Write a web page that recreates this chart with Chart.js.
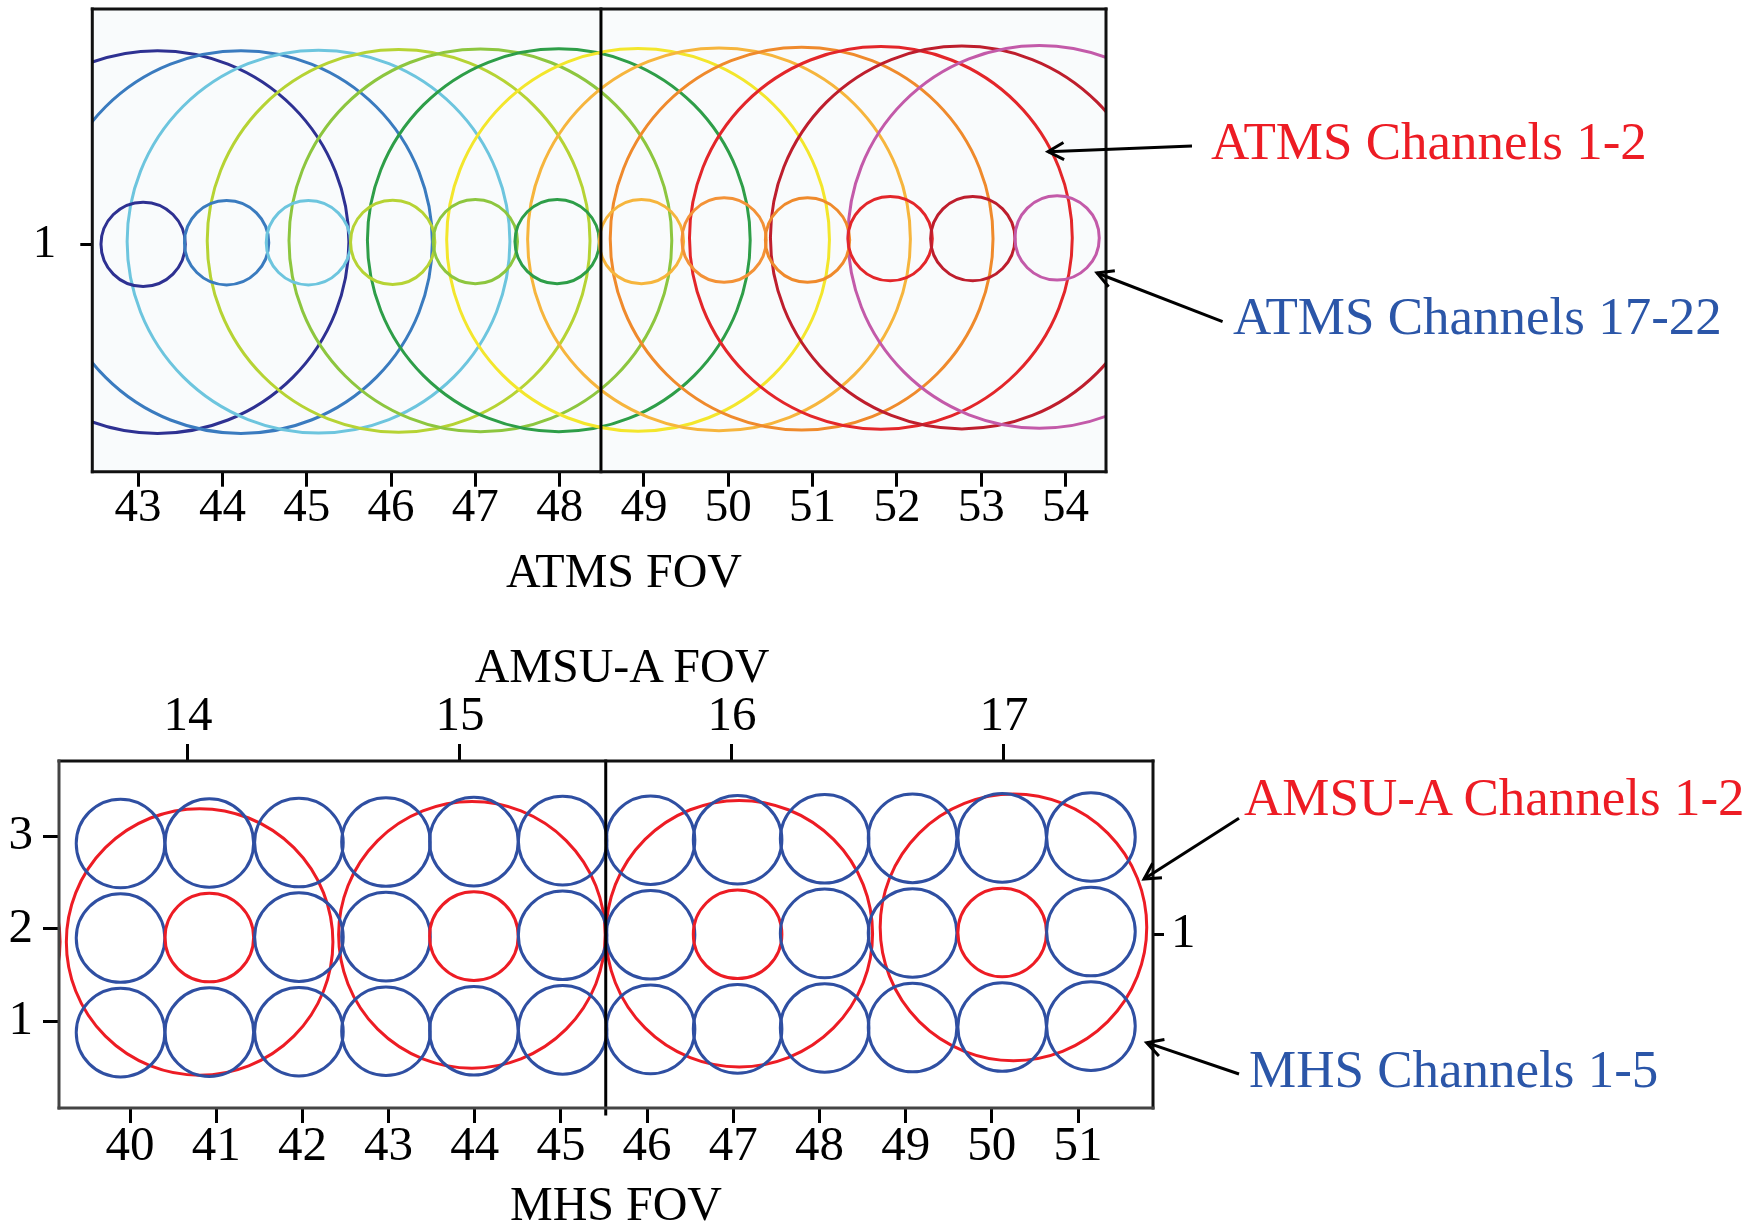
<!DOCTYPE html>
<html>
<head>
<meta charset="utf-8">
<script src="https://cdn.jsdelivr.net/npm/chart.js@4.4.1/dist/chart.umd.min.js"></script>
<style>
  html, body { margin: 0; padding: 0; background: #fff; }
  #page { position: relative; width: 1763px; height: 1222px; overflow: hidden; font-family: "Liberation Serif", "Times New Roman", serif; }
  canvas { position: absolute; left: 0; }
  .lbl { position: absolute; line-height: 1; white-space: nowrap; transform: translate(-50%, -50%); color: #000; font-size: 48px; }
  .note { position: absolute; line-height: 1; white-space: nowrap; transform: translateY(-50%); font-size: 53px; }
  .red { color: #ed1c24; }
  .blue { color: #2b56a8; }
  svg { position: absolute; left: 0; top: 0; }
</style>
</head>
<body>
<div id="page">
  <canvas id="atms" width="1763" height="620" style="top:0"></canvas>
  <canvas id="mhs" width="1763" height="622" style="top:600px"></canvas>

  <div class="lbl" style="left:624px; top:571px">ATMS FOV</div>
  <div class="lbl" style="left:622px; top:666px">AMSU-A FOV</div>
  <div class="lbl" style="left:616px; top:1204px">MHS FOV</div>

  <div class="note red" style="left:1211px; top:141px">ATMS Channels 1-2</div>
  <div class="note blue" style="left:1233px; top:316px">ATMS Channels 17-22</div>
  <div class="note red" style="left:1244px; top:797px">AMSU-A Channels 1-2</div>
  <div class="note blue" style="left:1249px; top:1069px">MHS Channels 1-5</div>

  <svg id="arrows" width="1763" height="1222"></svg>
</div>

<script>
// ---- ATMS panel (top) ----
const atmsTicks = [43, 44, 45, 46, 47, 48, 49, 50, 51, 52, 53, 54];
const atmsRowTicks = [1];

// channels 17-22 footprints (small circles)
const atmsSmallX = [43.06, 44.05, 45.02, 46.02, 47.00, 47.97, 48.97, 49.95, 50.94, 51.92, 52.90, 53.90];
const atmsSmallY = [1.000, 1.007, 1.007, 1.009, 1.012, 1.012, 1.012, 1.019, 1.019, 1.025, 1.025, 1.028];
const atmsSmallColors = ['#2e3192', '#3a7bbf', '#6dc5de', '#b6d334', '#8dc63f', '#2e9e48',
                         '#f6b53d', '#f39237', '#ef8a2c', '#e3262a', '#be1e2d', '#c35aa9'];

// channels 1-2 footprints (big circles)
const atmsBigX = [43.23, 44.22, 45.14, 46.09, 47.06, 47.99, 48.93, 49.89, 50.87, 51.81, 52.77, 53.69];
const atmsBigY = [1.010, 1.010, 1.012, 1.015, 1.017, 1.018, 1.020, 1.022, 1.025, 1.028, 1.030, 1.033];
const atmsBigColors = ['#2e3192', '#3a7bbf', '#6dc5de', '#b6d334', '#8dc63f', '#2e9e48',
                       '#f3e62c', '#f6b53d', '#ef8a2c', '#e3262a', '#be1e2d', '#c35aa9'];

const atmsSmallRadius = 0.5;   // FOV units
const atmsBigRadius = 2.27;
const atmsDivider = 48.49;

// ---- MHS / AMSU-A panel (bottom) ----
const mhsTicks = [40, 41, 42, 43, 44, 45, 46, 47, 48, 49, 50, 51];
const mhsRowTicks = [1, 2, 3];
const amsuTicks = [14, 15, 16, 17];
const scanTicks = [1];

const mhsX = [39.89, 40.92, 41.96, 42.97, 43.99, 45.02, 46.04, 47.05, 48.06, 49.08, 50.12, 51.15];
const mhsRowY = [0.88, 1.90, 2.92];
const mhsDrift = [0, 0.005, 0.01, 0.015, 0.02, 0.03, 0.035, 0.04, 0.05, 0.055, 0.06, 0.07];
const mhsRedCols = [41, 44, 47, 50];
const mhsRadius = 0.514;

const amsuX = [13.04, 14.043, 15.044, 16.027, 17.035];
const amsuY = [1.86, 1.858, 1.934, 1.947, 2.015];
const amsuRadius = 0.49;
const mhsDivider = 45.52;

const BLUE = '#2f4fa2';
const RED = '#ed1c24';

Chart.defaults.font.family = "'Liberation Serif', 'Times New Roman', serif";
Chart.defaults.color = '#000';

// radius given in axis units, turned into pixels by the scale
function unitRadius(axisId, units) {
  return (ctx) => {
    const chart = ctx.chart;
    const s = chart.scales[axisId];
    if (!chart.chartArea || !s) return 0;
    return Math.abs(s.getPixelForValue(s.min + units) - s.getPixelForValue(s.min));
  };
}

function fixedTicks(values) {
  return (scale) => { scale.ticks = values.map(v => ({ value: v })); };
}

function axis(opts) {
  return {
    type: 'linear',
    position: opts.position,
    min: opts.min,
    max: opts.max,
    afterBuildTicks: fixedTicks(opts.ticks),
    afterFit: (s) => {
      if (opts.width !== undefined) s.width = opts.width;
      if (opts.height !== undefined) s.height = opts.height;
      // label overhang should not push the plot area around
      s.paddingTop = s.paddingBottom = s.paddingLeft = s.paddingRight = 0;
    },
    border: { display: false },
    grid: {
      drawOnChartArea: false,
      drawTicks: true,
      tickLength: opts.tickLength,
      tickWidth: 3,
      tickColor: '#000'
    },
    ticks: {
      autoSkip: false,
      maxRotation: 0,
      padding: opts.padding,
      font: { size: opts.fontSize, lineHeight: 1 },
      color: '#000',
      callback: (v) => String(v)
    }
  };
}

function circles(points, axisId, units, color, extra) {
  return Object.assign({
    data: points,
    showLine: false,
    pointRadius: unitRadius(axisId, units),
    pointHoverRadius: unitRadius(axisId, units),
    pointBorderColor: color,
    pointBackgroundColor: 'rgba(0,0,0,0)',
    pointBorderWidth: 3,
    clip: 0
  }, extra || {});
}

const framePlugin = {
  id: 'frame',
  beforeDatasetsDraw(chart, args, opts) {
    if (!opts.fill) return;
    const { ctx, chartArea: a } = chart;
    ctx.save();
    ctx.fillStyle = opts.fill;
    ctx.fillRect(a.left, a.top, a.right - a.left, a.bottom - a.top);
    ctx.restore();
  },
  afterDatasetsDraw(chart, args, opts) {
    const { ctx, chartArea: a, scales } = chart;
    ctx.save();
    ctx.lineWidth = 3;
    ctx.lineCap = 'square';
    const xd = scales.x.getPixelForValue(opts.divider);
    ctx.strokeStyle = '#000';
    ctx.beginPath();
    ctx.moveTo(xd, a.top);
    ctx.lineTo(xd, a.bottom + (opts.dividerExtra || 0));
    ctx.stroke();
    const c = opts.colors;
    const side = (color, x1, y1, x2, y2) => {
      ctx.strokeStyle = color;
      ctx.beginPath(); ctx.moveTo(x1, y1); ctx.lineTo(x2, y2); ctx.stroke();
    };
    side(c[0], a.left, a.top, a.right, a.top);
    side(c[1], a.right, a.top, a.right, a.bottom);
    side(c[2], a.left, a.bottom, a.right, a.bottom);
    side(c[3], a.left, a.top, a.left, a.bottom);
    ctx.restore();
  }
};

const common = {
  responsive: false,
  animation: false,
  events: [],
  plugins: { legend: { display: false }, tooltip: { enabled: false } }
};

// ---- top chart ----
new Chart(document.getElementById('atms'), {
  type: 'scatter',
  data: {
    datasets: [
      circles(atmsSmallX.map((x, i) => ({ x: x, y: atmsSmallY[i] })), 'x', atmsSmallRadius,
              (ctx) => atmsSmallColors[ctx.dataIndex]),
      circles(atmsBigX.map((x, i) => ({ x: x, y: atmsBigY[i] })), 'x', atmsBigRadius,
              (ctx) => atmsBigColors[ctx.dataIndex])
    ]
  },
  options: Object.assign({}, common, {
    layout: { autoPadding: false, padding: { left: 0, top: 9, right: 657, bottom: 0 } },
    scales: {
      x: axis({ position: 'bottom', min: 42.457, max: 54.48, ticks: atmsTicks, height: 148.3,
                tickLength: 15, padding: -2, fontSize: 47 }),
      y: axis({ position: 'left', min: 0, max: 2.035, ticks: atmsRowTicks, width: 92.3,
                tickLength: 12, padding: 24, fontSize: 47 })
    },
    plugins: Object.assign({}, common.plugins, {
      frame: { divider: atmsDivider, colors: ['#111', '#111', '#111', '#111'], fill: '#f9fbfc' }
    })
  }),
  plugins: [framePlugin]
});

// ---- bottom chart ----
const mhsPoints = [];
const mhsColors = [];
mhsRowY.forEach((ry, r) => {
  mhsX.forEach((x, i) => {
    mhsPoints.push({ x: x, y: ry + mhsDrift[i] });
    const red = r === 1 && mhsRedCols.includes(mhsTicks[i]);
    mhsColors.push(red ? RED : BLUE);
  });
});

new Chart(document.getElementById('mhs'), {
  type: 'scatter',
  data: {
    datasets: [
      circles(mhsPoints, 'x', mhsRadius, (ctx) => mhsColors[ctx.dataIndex],
              { xAxisID: 'x', yAxisID: 'y' }),
      circles(amsuX.map((x, i) => ({ x: x, y: amsuY[i] })), 'x2', amsuRadius, RED,
              { xAxisID: 'x2', yAxisID: 'y' })
    ]
  },
  options: Object.assign({}, common, {
    layout: { autoPadding: false, padding: { left: 0, top: 0, right: 550, bottom: 0 } },
    scales: {
      x: axis({ position: 'bottom', min: 39.176, max: 51.87, ticks: mhsTicks, height: 114,
                tickLength: 15, padding: 0, fontSize: 49 }),
      x2: axis({ position: 'top', min: 13.526, max: 17.548, ticks: amsuTicks, height: 161,
                 tickLength: 17, padding: 2, fontSize: 49 }),
      y: axis({ position: 'left', min: 0.067, max: 3.809, ticks: mhsRowTicks, width: 59,
                tickLength: 16, padding: 10, fontSize: 49 }),
      y2: axis({ position: 'right', min: 0, max: 2, ticks: scanTicks, width: 60,
                 tickLength: 11, padding: 7, fontSize: 49 })
    },
    plugins: Object.assign({}, common.plugins, {
      frame: { divider: mhsDivider, dividerExtra: 6, colors: ['#111', '#111', '#444', '#444'] }
    })
  }),
  plugins: [framePlugin]
});

// ---- pointer arrows for the notes ----
const arrows = [
  [1192, 146, 1048, 151.7],
  [1222.6, 321.7, 1097, 273],
  [1239, 818.3, 1144, 879],
  [1239, 1074, 1146.7, 1042.7]
];
const svg = document.getElementById('arrows');
const NS = 'http://www.w3.org/2000/svg';
arrows.forEach(([x1, y1, x2, y2]) => {
  const ang = Math.atan2(y1 - y2, x1 - x2);
  const head = 18, spread = 0.5;
  const pts = [
    [x2 + head * Math.cos(ang + spread), y2 + head * Math.sin(ang + spread)],
    [x2, y2],
    [x2 + head * Math.cos(ang - spread), y2 + head * Math.sin(ang - spread)]
  ];
  const line = document.createElementNS(NS, 'line');
  line.setAttribute('x1', x1); line.setAttribute('y1', y1);
  line.setAttribute('x2', x2); line.setAttribute('y2', y2);
  line.setAttribute('stroke', '#000'); line.setAttribute('stroke-width', 3);
  svg.appendChild(line);
  const pl = document.createElementNS(NS, 'polyline');
  pl.setAttribute('points', pts.map(p => p.join(',')).join(' '));
  pl.setAttribute('fill', 'none'); pl.setAttribute('stroke', '#000'); pl.setAttribute('stroke-width', 3);
  svg.appendChild(pl);
});
</script>
</body>
</html>
